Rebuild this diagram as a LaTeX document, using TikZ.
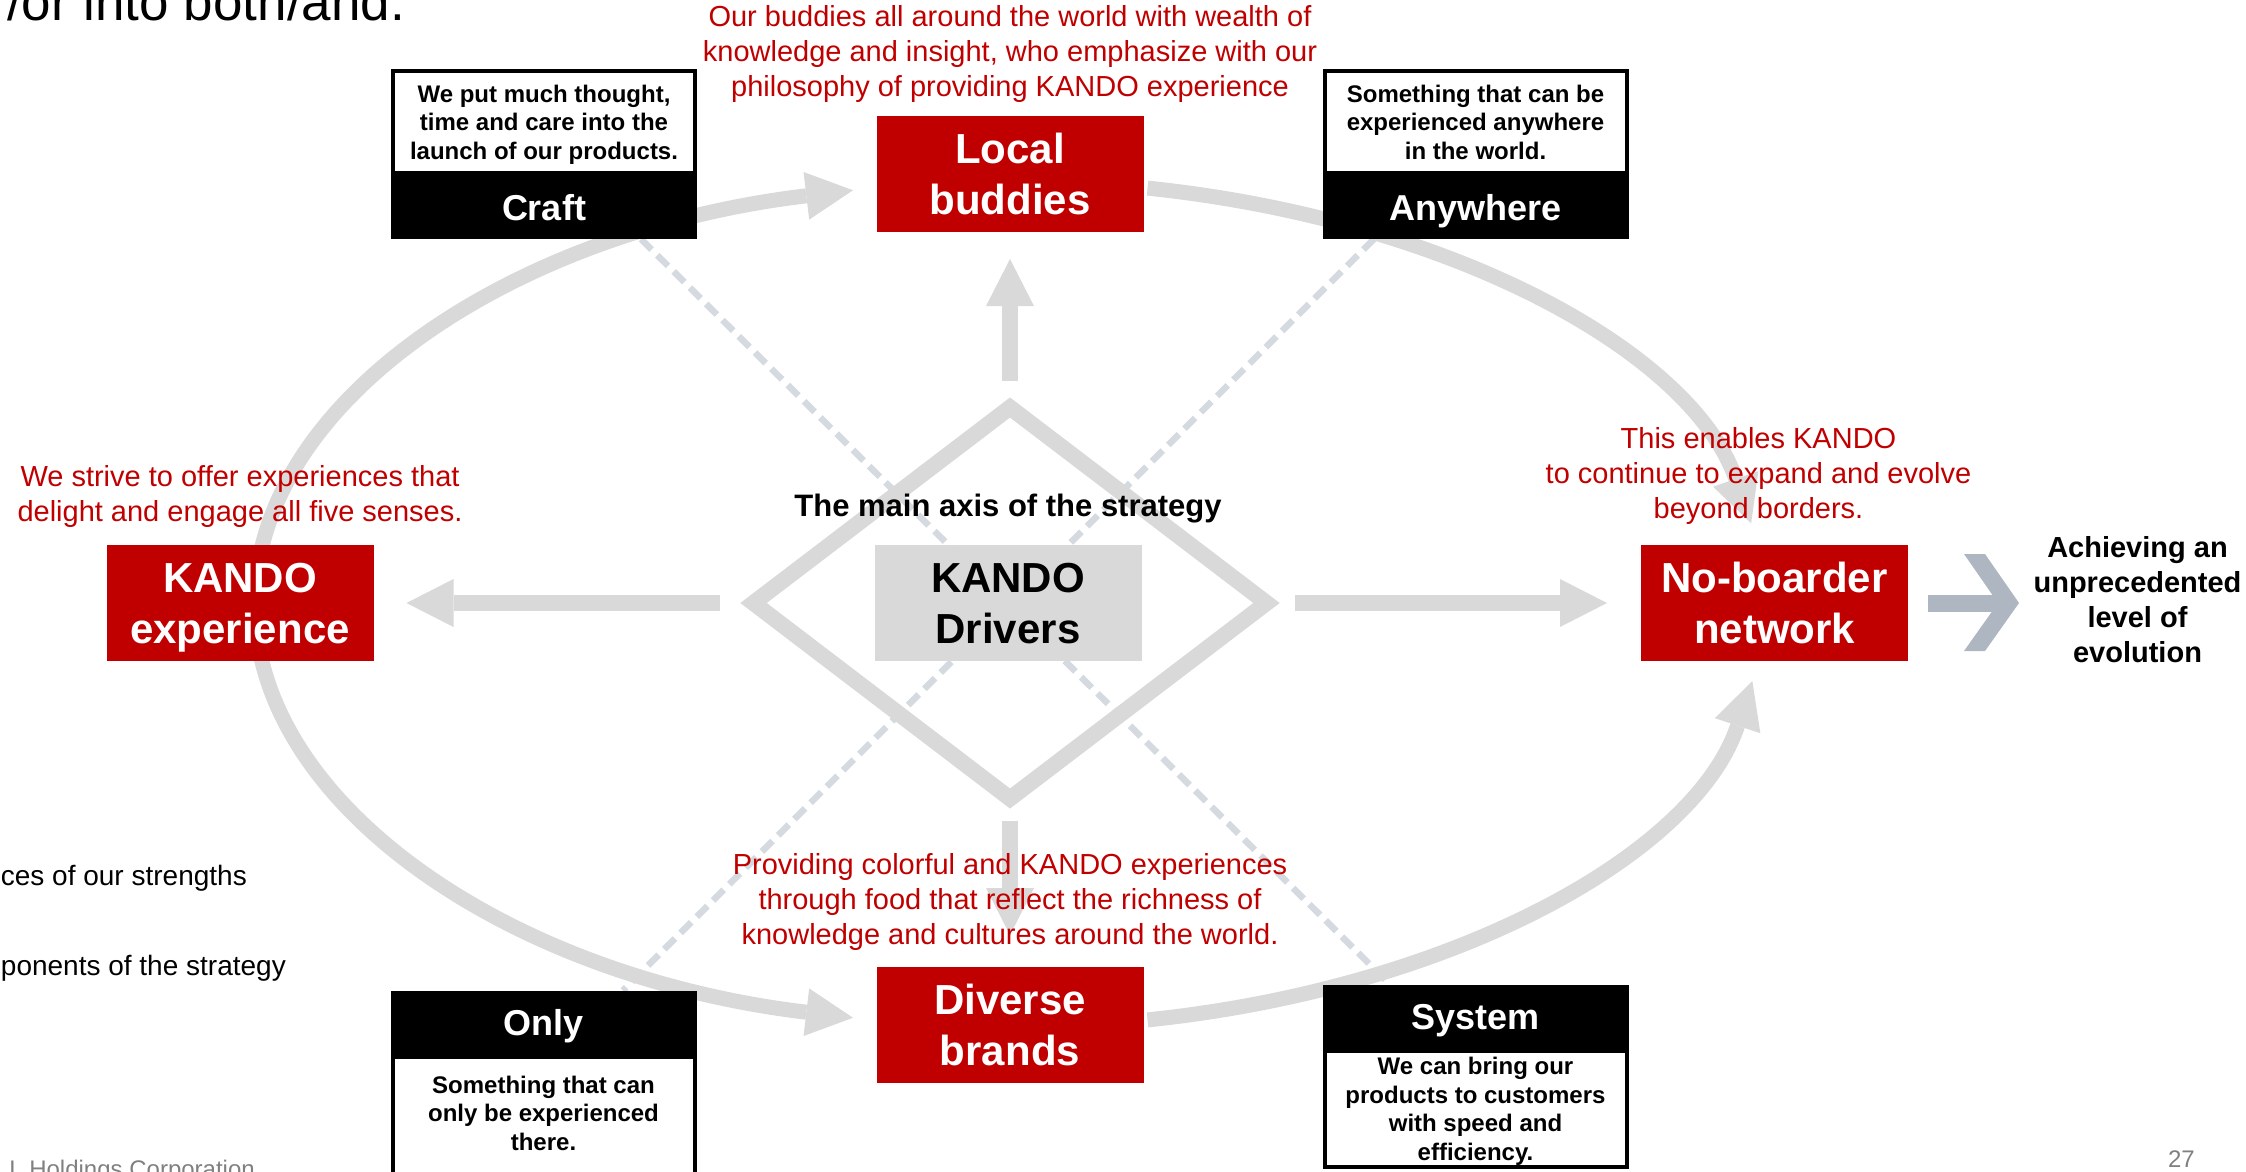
\documentclass[tikz,border=0pt]{standalone}
\usepackage{fontspec}
\setmainfont{Liberation Sans}
\usetikzlibrary{positioning, shapes.geometric, arrows.meta, calc}

\definecolor{kandored}{RGB}{192,0,0}
\definecolor{loopgray}{RGB}{217,217,217}
\definecolor{guidegray}{RGB}{212,218,224}
\definecolor{chevgray}{RGB}{174,183,193}
\definecolor{footgray}{RGB}{128,128,128}

\pgfdeclarelayer{guides}
\pgfdeclarelayer{loops}
\pgfsetlayers{guides,loops,main}

\tikzset{
	redbox/.style={fill=kandored, text=white, font=\bfseries\fontsize{42}{51}\selectfont, minimum width=267pt, minimum height=116pt, align=center, inner sep=0pt, outer sep=0pt, text depth=0pt},
	corebox/.style={redbox, fill=loopgray, text=black},
	tagdesc/.style={draw=black, line width=4pt, fill=white, font=\bfseries\fontsize{24}{28.5}\selectfont, minimum width=302pt, align=center, inner sep=0pt, outer sep=0pt, text depth=0pt},
	tagtitle/.style={fill=black, text=white, font=\bfseries\fontsize{36}{40}\selectfont, minimum width=306pt, minimum height=64pt, inner sep=0pt, outer sep=0pt, text depth=0pt},
	note/.style={text=kandored, font=\fontsize{29}{35}\selectfont, align=center, inner sep=0pt, text depth=0pt},
	bigarrow/.style={draw=loopgray, line width=16pt, -{Triangle[width=48pt, length=47pt, line width=0pt]}},
	looparrow/.style={draw=loopgray, line width=15pt, -{Triangle[width=48pt, length=47pt, line width=0pt]}},
	guide/.style={draw=guidegray, line width=6.5pt, dash pattern=on 15pt off 8pt},
	pagefoot/.style={font=\fontsize{24}{28}\selectfont, text=footgray, inner sep=0pt, anchor=base east}
}

\begin{document}
\begin{tikzpicture}[x=1pt, y=-1pt]
	\useasboundingbox (0,0) rectangle (2246,1171);

	\node[draw=loopgray, line width=16pt, diamond, minimum width=513pt, minimum height=391pt, inner sep=0pt, outer sep=0pt] (core) at (1010,603) {};
	\node[corebox] (drivers) at (1008,603) {KANDO\\Drivers};
	\node[font=\bfseries\fontsize{31}{36}\selectfont, inner sep=0pt, text depth=0pt, above=28pt of drivers] (axis) {The main axis of the strategy};

	\node[redbox] (local) at (1010,174) {Local\\buddies};
	\node[redbox] (kexp) at (240,603) {KANDO\\experience};
	\node[redbox] (noborder) at (1774.5,603) {No-boarder\\network};
	\node[redbox] (diverse) at (1010,1025) {Diverse\\brands};

	\node[note, above=19pt of local] (localnote) {Our buddies all around the world with wealth of\\knowledge and insight, who emphasize with our\\philosophy of providing KANDO experience};
	\node[note, above=23pt of kexp] (kexpnote) {We strive to offer experiences that\\delight and engage all five senses.};
	\node[note, above=26pt of noborder, xshift=-16pt] (noborderrnote) {This enables KANDO\\to continue to expand and evolve\\beyond borders.};
	\node[note, above=22pt of diverse] (diversenote) {Providing colorful and KANDO experiences\\through food that reflect the richness of\\knowledge and cultures around the world.};

	\node[tagdesc, minimum height=102pt] (craftd) at (544,122) {We put much thought,\\time and care into the\\launch of our products.};
	\node[tagtitle] (craftt) at (544,207) {Craft};
	\node[tagdesc, minimum height=102pt] (anyd) at (1475.5,122) {Something that can be\\experienced anywhere\\in the world.};
	\node[tagtitle] (anyt) at (1475.5,207) {Anywhere};
	\node[tagdesc, minimum height=126pt, text depth=14pt] (onlyd) at (543.5,1120) {Something that can\\only be experienced\\there.};
	\node[tagtitle] (onlyt) at (543.5,1022.5) {Only};
	\node[tagdesc, minimum height=116pt] (sysd) at (1475.5,1109) {We can bring our\\products to customers\\with speed and\\efficiency.};
	\node[tagtitle] (syst) at (1475.5,1016.5) {System};

	\coordinate (chev) at ([xshift=20pt]noborder.east);
	\fill[chevgray] (chev) ++(0,-8.5) rectangle ++(70,17);
	\fill[chevgray] (chev) ++(36,-49) -- ++(21,0) -- ++(34,49) -- ++(-34,48) -- ++(-21,0) -- ++(34,-48) -- cycle;
	\node[font=\bfseries\fontsize{29}{35}\selectfont, align=center, inner sep=0pt, text depth=0pt] (evolve) at (2137.5,599) {Achieving an\\unprecedented\\level of\\evolution};

	\node[anchor=base west, font=\fontsize{53}{60}\selectfont, inner sep=0pt] (heading) at (7,20) {/or into both/and.};
	\node[anchor=base east, font=\fontsize{28}{34}\selectfont, inner sep=0pt] (sources) at (247,885) {ces of our strengths};
	\node[anchor=base east, font=\fontsize{28}{34}\selectfont, inner sep=0pt] (components) at (286,975) {ponents of the strategy};
	\node[pagefoot] (corp) at (255,1177) {LL Holdings Corporation};
	\node[pagefoot] (page) at (2195,1167) {27};

	\begin{pgfonlayer}{guides}
		\coordinate (gcraft) at ([xshift=97pt]craftt.south);
		\coordinate (gany) at ([xshift=-101.5pt]anyt.south);
		\coordinate (gonly) at ([xshift=79.5pt]onlyt.north);
		\coordinate (gsys) at ([xshift=-85.5pt]syst.north);
		\draw[guide] (gcraft) -- (gsys);
		\draw[guide] (gany) -- (gonly);
	\end{pgfonlayer}

	\begin{pgfonlayer}{loops}
		\coordinate (loop) at (1010,604);
		\draw[looparrow] ($(loop)+(186:755 and 423)$) arc[start angle=186, end angle=258, x radius=755, y radius=423];
		\draw[looparrow] ($(loop)+(280.5:755 and 423)$) arc[start angle=280.5, end angle=349, x radius=755, y radius=423];
		\draw[looparrow] ($(loop)+(174:755 and 423)$) arc[start angle=174, end angle=102, x radius=755, y radius=423];
		\draw[looparrow] ($(loop)+(79.5:755 and 423)$) arc[start angle=79.5, end angle=10.5, x radius=755, y radius=423];
		\draw[bigarrow, shorten <=27pt, shorten >=27pt] (core.north) -- (local.south);
		\draw[bigarrow, shorten <=22pt, shorten >=32pt] (core.south) -- (diverse.north);
		\draw[bigarrow, shorten <=34pt, shorten >=33pt] (core.west) -- (kexp.east);
		\draw[bigarrow, shorten <=28pt, shorten >=34pt] (core.east) -- (noborder.west);
	\end{pgfonlayer}
\end{tikzpicture}
\end{document}
